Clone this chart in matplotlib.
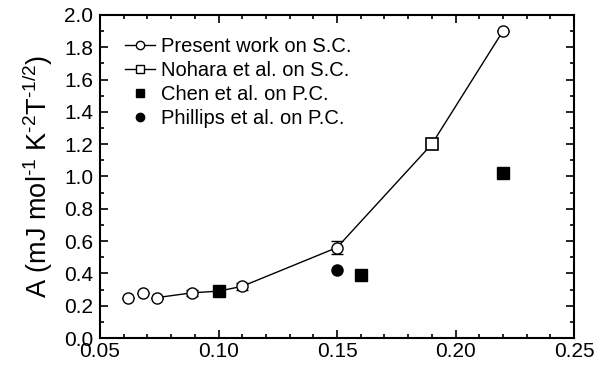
import numpy as np
import matplotlib
matplotlib.use("Agg")
import matplotlib.pyplot as plt
from matplotlib.ticker import MultipleLocator, FormatStrFormatter

plt.rcParams['font.family'] = ['Liberation Sans', 'DejaVu Sans']
plt.rcParams['mathtext.fontset'] = 'custom'
plt.rcParams['mathtext.rm'] = 'Liberation Sans'
plt.rcParams['mathtext.it'] = 'Liberation Sans'

# present work, single crystals
x_present = [0.062, 0.068, 0.074, 0.089, 0.11, 0.15, 0.22]
y_present = [0.25, 0.28, 0.25, 0.28, 0.32, 0.56, 1.90]
err_present = [0.0, 0.0, 0.0, 0.02, 0.02, 0.04, 0.0]

# Nohara et al., single crystals
x_nohara = [0.19]
y_nohara = [1.20]

# Chen et al., polycrystals
x_chen = [0.10, 0.16, 0.22]
y_chen = [0.29, 0.39, 1.02]

# Phillips et al., polycrystals
x_phil = [0.15]
y_phil = [0.42]

# guide line through the single crystal data
x_guide = [0.074, 0.089, 0.10, 0.11, 0.15, 0.19, 0.22]
y_guide = [0.25, 0.28, 0.29, 0.32, 0.56, 1.20, 1.90]

fig = plt.figure(figsize=(6.11, 3.70), dpi=100)
ax = fig.add_axes([100/611, 1 - 338/370, 474/611, 323/370])

ax.plot(x_guide, y_guide, color='black', lw=1.0, zorder=1)
ax.errorbar(x_present, y_present, yerr=err_present, fmt='none', ecolor='black',
            elinewidth=1.0, capsize=4, capthick=1.0, zorder=2)
ax.plot(x_present, y_present, 'o', ms=8, mfc='white', mec='black', mew=1.0, zorder=3)
ax.plot(x_nohara, y_nohara, 's', ms=8, mfc='white', mec='black', mew=1.2, zorder=3)
ax.plot(x_chen, y_chen, 's', ms=8, mfc='black', mec='black', zorder=4)
ax.plot(x_phil, y_phil, 'o', ms=8, mfc='black', mec='black', zorder=4)

# legend entries
h1, = ax.plot([], [], '-o', color='black', lw=1.0, ms=6, mfc='white', mec='black')
h2, = ax.plot([], [], '-s', color='black', lw=1.0, ms=6, mfc='white', mec='black')
h3, = ax.plot([], [], 's', ms=6, mfc='black', mec='black')
h4, = ax.plot([], [], 'o', ms=6, mfc='black', mec='black')
ax.legend([h1, h2, h3, h4],
          ['Present work on S.C.', 'Nohara et al. on S.C.',
           'Chen et al. on P.C.', 'Phillips et al. on P.C.'],
          loc='upper left', bbox_to_anchor=(0.022, 0.975), frameon=False,
          fontsize=14.5, handlelength=1.5, handletextpad=0.3, labelspacing=0.25,
          borderaxespad=0.3)

ax.set_xlim(0.05, 0.25)
ax.set_ylim(0.0, 2.0)
ax.xaxis.set_major_locator(MultipleLocator(0.05))
ax.xaxis.set_minor_locator(MultipleLocator(0.01))
ax.yaxis.set_major_locator(MultipleLocator(0.2))
ax.yaxis.set_minor_locator(MultipleLocator(0.1))
ax.xaxis.set_major_formatter(FormatStrFormatter('%.2f'))
ax.yaxis.set_major_formatter(FormatStrFormatter('%.1f'))
ax.tick_params(which='both', direction='in', top=True, right=True, width=1.2,
               labelsize=15)
ax.tick_params(which='major', length=6)
ax.tick_params(which='minor', length=3)
ax.tick_params(axis='x', pad=3)
ax.tick_params(axis='y', pad=5)
for s in ax.spines.values():
    s.set_linewidth(1.5)

ax.set_ylabel('A (mJ mol$^{\\rm \u2010 1}$ K$^{\\rm \u2010 2}$T$^{\\rm \u2010 1/2}$)',
              fontsize=19.5, labelpad=6)

fig.savefig('out.png', dpi=100)
